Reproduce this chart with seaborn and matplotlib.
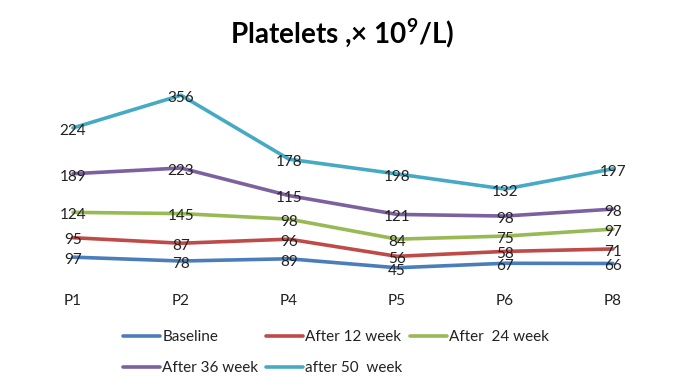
import numpy as np
import pandas as pd
import matplotlib
matplotlib.use("Agg")
import matplotlib.pyplot as plt
import seaborn as sns

# Chart values (stacked line chart, labels show each series' own value)
CATEGORIES = ["P1", "P2", "P4", "P5", "P6", "P8"]
SERIES = ["Baseline", "After 12 week", "After  24 week", "After 36 week", "after 50  week"]
BASELINE = [97, 78, 89, 45, 67, 66]
WEEK_12 = [95, 87, 96, 56, 58, 71]
WEEK_24 = [124, 145, 98, 84, 75, 97]
WEEK_36 = [189, 223, 115, 121, 98, 98]
WEEK_50 = [224, 356, 178, 198, 132, 197]
COLORS = ["#4A7EBB", "#BE4B48", "#98B954", "#7D60A0", "#46AAC5"]


def build_frame():
    values = np.array([BASELINE, WEEK_12, WEEK_24, WEEK_36, WEEK_50])
    stacked = np.cumsum(values, axis=0)
    rows = []
    for s, name in enumerate(SERIES):
        for i, cat in enumerate(CATEGORIES):
            rows.append({"series": name, "x": i, "cat": cat,
                         "value": values[s, i], "stacked": stacked[s, i]})
    return pd.DataFrame(rows)


def main():
    sns.set_style("white")
    plt.rcParams["font.family"] = ["Lato", "DejaVu Sans"]

    df = build_frame()
    fig = plt.figure(figsize=(6.85, 3.89), dpi=100)
    ax = fig.add_axes([0.0277, 0.288, 0.946, 0.473])

    sns.lineplot(data=df, x="x", y="stacked", hue="series", hue_order=SERIES,
                 palette=COLORS, linewidth=2.6, ax=ax, legend=False, clip_on=False)

    for _, r in df.iterrows():
        ax.annotate(str(r["value"]), (r["x"], r["stacked"]), xytext=(0, -2),
                    textcoords="offset points", ha="center", va="center",
                    fontsize=11, color="#222222")

    ax.set_xlim(-0.5, len(CATEGORIES) - 0.5)
    ax.set_ylim(0, 900)
    ax.set_yticks([])
    ax.set_xticks([])
    for spine in ax.spines.values():
        spine.set_visible(False)
    ax.set_xlabel("")
    ax.set_ylabel("")

    # category labels below the plot
    for i, cat in enumerate(CATEGORIES):
        ax.annotate(cat, (i, 0), xytext=(0, -17), textcoords="offset points",
                    ha="center", va="center", fontsize=11, color="#222222",
                    annotation_clip=False)

    fig.text(0.5, 0.915, r"Platelets ,× 10$^{\mathregular{9}}$/L)", ha="center",
             va="center", fontsize=20, fontweight="bold", color="black")

    # legend fills row by row like the original: reorder for column-major layout
    handles = [plt.Line2D([], [], color=c, linewidth=2.6) for c in COLORS]
    order = [0, 3, 1, 4, 2]
    fig.legend([handles[k] for k in order], [SERIES[k] for k in order], ncol=3,
               loc="upper left", bbox_to_anchor=(0.18, 0.152), frameon=False,
               fontsize=11, handlelength=2.4, handletextpad=0.15,
               columnspacing=0.5, labelspacing=1.15, borderaxespad=0,
               borderpad=0, labelcolor="#222222")

    fig.savefig("out.png", dpi=100, facecolor="white")


if __name__ == "__main__":
    main()
